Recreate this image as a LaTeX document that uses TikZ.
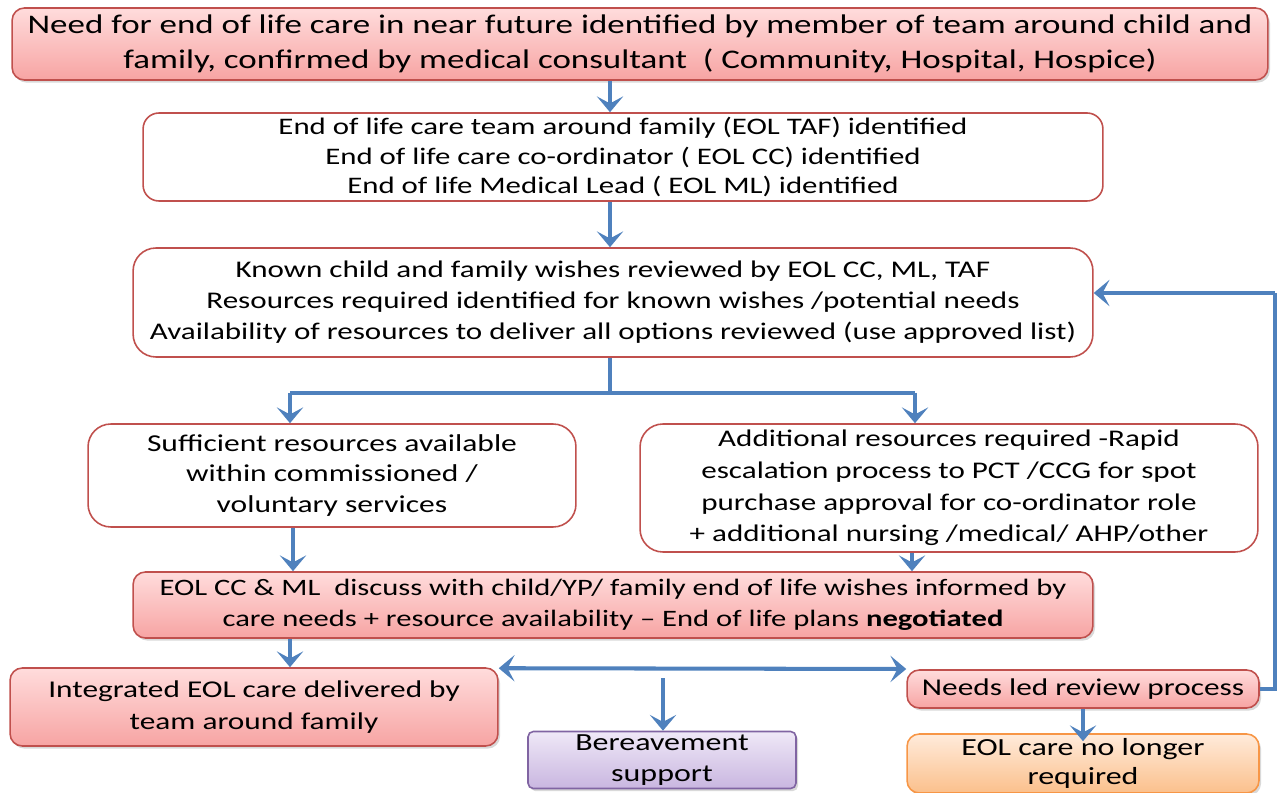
\documentclass[tikz,border=0pt]{standalone}
\usepackage{fontspec}
\setmainfont{Carlito}[FakeStretch=1.3]
\usetikzlibrary{arrows.meta,shadows}

\definecolor{boxred}{HTML}{C0504D}
\definecolor{pinktop}{HTML}{FFDCDC}
\definecolor{pinkbot}{HTML}{F7A4A3}
\definecolor{lilac}{HTML}{8064A2}
\definecolor{lilactop}{HTML}{EFE8F7}
\definecolor{lilacbot}{HTML}{C9B6E0}
\definecolor{amber}{HTML}{F79646}
\definecolor{ambertop}{HTML}{FFEBDB}
\definecolor{amberbot}{HTML}{FBC08C}
\definecolor{flowblue}{HTML}{4F81BD}

\tikzset{
	whitebox/.style={draw=boxred, line width=0.9pt, fill=white, rounded corners=9pt, align=center, inner sep=0pt},
	pinkbox/.style={whitebox, top color=pinktop, bottom color=pinkbot, rounded corners=7pt,
		drop shadow={shadow xshift=1.2pt, shadow yshift=-1.5pt, opacity=0.3}},
	lilacbox/.style={pinkbox, draw=lilac, top color=lilactop, bottom color=lilacbot, rounded corners=3pt},
	amberbox/.style={pinkbox, draw=amber, top color=ambertop, bottom color=amberbot},
	flow/.style={draw=flowblue, line width=2.3pt},
	flowarr/.style={flow, -{Stealth[length=9pt,width=15pt,inset=4pt]}},
	flowboth/.style={flow, {Stealth[length=9pt,width=15pt,inset=4pt]}-{Stealth[length=9pt,width=15pt,inset=4pt]}},
}

\begin{document}
\begin{tikzpicture}[x=0.02cm,y=-0.02cm]
	\useasboundingbox (0,0) rectangle (1281,793);

	% boxes
	\node[pinkbox, minimum width=25.12cm, minimum height=1.44cm, font=\fontsize{15.3}{20}\selectfont] (need) at (640,44)
		{Need for end of life care in near future identified by member of team around child and\\
		 family, confirmed by medical consultant \ ( Community, Hospital, Hospice)};
	\node[whitebox, minimum width=19.2cm, minimum height=1.76cm, font=\fontsize{13.5}{17}\selectfont] (team) at (623,157)
		{End of life care team around family (EOL TAF) identified\\
		 End of life care co-ordinator ( EOL CC) identified\\
		 End of life Medical Lead ( EOL ML) identified};
	\node[whitebox, rounded corners=13pt, minimum width=19.2cm, minimum height=2.18cm, font=\fontsize{13.6}{17.6}\selectfont] (wishes) at (613,302.5)
		{Known child and family wishes reviewed by EOL CC, ML, TAF\\
		 Resources required identified for known wishes /potential needs\\
		 Availability of resources to deliver all options reviewed (use approved list)};
	\node[whitebox, rounded corners=13pt, minimum width=9.76cm, minimum height=2.06cm, font=\fontsize{13.8}{17.6}\selectfont] (suff) at (332,475.5)
		{Sufficient resources available\\ within commissioned /\\ voluntary services};
	\node[whitebox, rounded corners=13pt, minimum width=12.36cm, minimum height=2.56cm, font=\fontsize{13.6}{18}\selectfont] (addl) at (949,488)
		{Additional resources required -Rapid\\
		 escalation process to PCT /CCG for spot\\
		 purchase approval for co-ordinator role\\
		 + additional nursing /medical/ AHP/other};
	\node[pinkbox, minimum width=19.2cm, minimum height=1.32cm, font=\fontsize{13.4}{17.6}\selectfont] (discuss) at (613,605)
		{EOL CC \& ML \ discuss with child/YP/ family end of life wishes informed by\\
		 care needs + resource availability – End of life plans \textbf{negotiated}};
	\node[pinkbox, minimum width=9.76cm, minimum height=1.56cm, font=\fontsize{13.7}{18}\selectfont] (integ) at (254,707)
		{Integrated EOL care delivered by\\ team around family};
	\node[lilacbox, minimum width=5.36cm, minimum height=1.14cm, font=\fontsize{14}{18}\selectfont] (bereav) at (662,760)
		{Bereavement\\ support};
	\node[pinkbox, minimum width=7.04cm, minimum height=0.76cm, font=\fontsize{13.7}{17}\selectfont] (review) at (1083,689)
		{Needs led review process};
	\node[amberbox, minimum width=7.04cm, minimum height=1.18cm, font=\fontsize{14}{17}\selectfont] (nolonger) at (1083,763.5)
		{EOL care no longer\\ required};

	% arrows
	\coordinate (mid) at (610,0);
	\coordinate (lsplit) at (290,393);
	\coordinate (rsplit) at (915,393);
	\coordinate (fork) at (663,678);
	\coordinate (loop) at (1275,293);

	\draw[flowarr] (need.south -| mid) -- (team.north -| mid);
	\draw[flowarr] (team.south -| mid) -- (wishes.north -| mid);
	\draw[flow] (wishes.south -| mid) -- (mid |- lsplit);
	\draw[flow] (lsplit) -- (rsplit);
	\draw[flowarr] (lsplit) -- (lsplit |- suff.north);
	\draw[flowarr] (rsplit) -- (rsplit |- addl.north);
	\draw[flowarr] (suff.south -| 293,0) -- (discuss.north -| 293,0);
	\draw[flowarr] (addl.south -| 912,0) -- (discuss.north -| 912,0);
	\draw[flowarr] (discuss.south -| lsplit) -- (integ.north -| lsplit);
	\draw[flowboth] (integ.north east) ++(0,1) -- (review.north west |- 0,669);
	\draw[flowarr] (fork) -- (bereav.north -| fork);
	\draw[flowarr] (review.south) -- ([yshift=-0.16cm]nolonger.north);
	\draw[flow, -] (review.east) -| (loop);
	\draw[flowarr] (loop) -- (loop -| wishes.east);
\end{tikzpicture}
\end{document}
